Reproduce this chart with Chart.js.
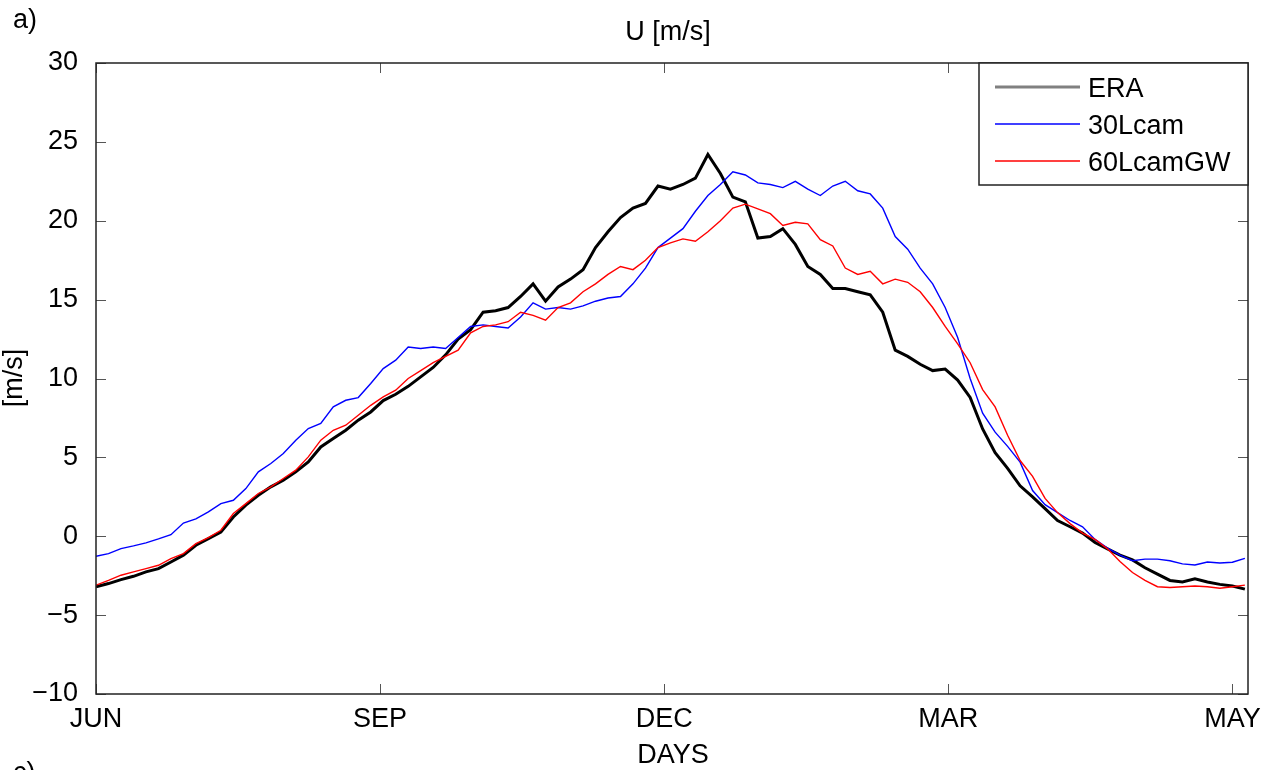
<!DOCTYPE html>
<html>
<head>
<meta charset="utf-8">
<script src="https://cdn.jsdelivr.net/npm/chart.js@4.4.1/dist/chart.umd.min.js"></script>
<style>
  html, body { margin: 0; padding: 0; background: #ffffff; }
  #wrap { width: 1267px; height: 770px; position: relative; }
</style>
</head>
<body>
<div id="wrap"><canvas id="chart" width="1267" height="770"></canvas></div>
<script>
// Day of the year counted from 1 June
const days = [0, 4, 8, 12, 16, 20, 24, 28, 32, 36, 40, 44, 48, 52, 56, 60, 64, 68, 72, 76,
  80, 84, 88, 92, 96, 100, 104, 108, 112, 116, 120, 124, 128, 132, 136, 140, 144, 148, 152, 156,
  160, 164, 168, 172, 176, 180, 184, 188, 192, 196, 200, 204, 208, 212, 216, 220, 224, 228, 232, 236,
  240, 244, 248, 252, 256, 260, 264, 268, 272, 276, 280, 284, 288, 292, 296, 300, 304, 308, 312, 316,
  320, 324, 328, 332, 336, 340, 344, 348, 352, 356, 360, 364, 368];

// Zonal wind U [m/s]
const era = [-3.2, -3.0, -2.75, -2.54, -2.26, -2.05, -1.63, -1.2, -0.57, -0.15, 0.27, 1.22, 1.97, 2.6, 3.13, 3.55, 4.08, 4.71, 5.66, 6.19,
  6.72, 7.36, 7.88, 8.6, 9.0, 9.5, 10.1, 10.7, 11.5, 12.5, 13.1, 14.2, 14.3, 14.5, 15.2, 16.0, 14.9, 15.8, 16.3, 16.9,
  18.3, 19.3, 20.2, 20.8, 21.1, 22.2, 22.0, 22.3, 22.7, 24.2, 23.0, 21.5, 21.2, 18.9, 19.0, 19.5, 18.5, 17.1, 16.6, 15.7,
  15.7, 15.5, 15.3, 14.2, 11.8, 11.4, 10.9, 10.5, 10.6, 9.9, 8.8, 6.8, 5.3, 4.3, 3.2, 2.5, 1.75, 1.0, 0.6, 0.2,
  -0.4, -0.8, -1.2, -1.5, -2.0, -2.4, -2.8, -2.9, -2.7, -2.9, -3.05, -3.15, -3.35];

const cam30 = [-1.27, -1.1, -0.78, -0.61, -0.42, -0.17, 0.1, 0.84, 1.1, 1.54, 2.07, 2.28, 3.02, 4.08, 4.61, 5.24, 6.09, 6.83, 7.15, 8.2,
  8.62, 8.79, 9.68, 10.63, 11.16, 12.0, 11.9, 12.0, 11.9, 12.6, 13.3, 13.4, 13.3, 13.2, 13.9, 14.8, 14.4, 14.5, 14.4, 14.6,
  14.9, 15.1, 15.2, 16.0, 17.0, 18.3, 18.9, 19.5, 20.6, 21.6, 22.3, 23.1, 22.9, 22.4, 22.3, 22.1, 22.5, 22.0, 21.6, 22.2,
  22.5, 21.9, 21.7, 20.8, 19.0, 18.2, 17.0, 16.0, 14.5, 12.6, 10.0, 7.8, 6.6, 5.7, 4.7, 2.9, 2.0, 1.5, 1.0, 0.6,
  -0.2, -0.75, -1.2, -1.55, -1.45, -1.45, -1.55, -1.75, -1.82, -1.63, -1.7, -1.65, -1.4];

const camGW60 = [-3.1, -2.8, -2.47, -2.26, -2.05, -1.84, -1.42, -1.1, -0.47, -0.09, 0.38, 1.44, 2.07, 2.71, 3.13, 3.66, 4.19, 5.03, 6.09, 6.72,
  7.04, 7.67, 8.3, 8.83, 9.26, 10.0, 10.5, 11.0, 11.4, 11.8, 12.9, 13.3, 13.4, 13.6, 14.2, 14.0, 13.7, 14.5, 14.8, 15.5,
  16.0, 16.6, 17.1, 16.9, 17.5, 18.3, 18.6, 18.85, 18.7, 19.3, 20.0, 20.8, 21.05, 20.75, 20.45, 19.7, 19.9, 19.8, 18.8, 18.4,
  17.0, 16.6, 16.8, 16.0, 16.3, 16.1, 15.5, 14.5, 13.3, 12.2, 11.0, 9.3, 8.2, 6.4, 4.8, 3.8, 2.4, 1.5, 0.8, 0.2,
  -0.2, -0.8, -1.6, -2.3, -2.8, -3.2, -3.25, -3.2, -3.15, -3.2, -3.3, -3.2, -3.1];

// Axis ticks
const monthTicks = [0, 91, 182, 273, 364];
const monthLabels = ['JUN', 'SEP', 'DEC', 'MAR', 'MAY'];
const yTicks = [-10, -5, 0, 5, 10, 15, 20, 25, 30];

const seriesNames = ['ERA', '30Lcam', '60LcamGW'];
const seriesColors = ['#000000', '#0000ff', '#ff0000'];
const legendColors = ['#808080', '#0000ff', '#ff0000'];

const FONT = '"Liberation Sans", Arial, Helvetica, sans-serif';
const FS = 27;
const TEXT = '#000000';

function toPoints(values) {
  return days.map((d, i) => ({ x: d, y: values[i] }));
}

// Box around the axes with inward ticks on all four sides, MATLAB style
const boxPlugin = {
  id: 'axesBox',
  afterDatasetsDraw(chart) {
    const { ctx, chartArea: a, scales } = chart;
    ctx.save();
    ctx.strokeStyle = '#555555';
    ctx.lineWidth = 1;
    const len = 10;
    ctx.beginPath();
    yTicks.forEach(v => {
      const py = Math.round(scales.y.getPixelForValue(v)) + 0.5;
      ctx.moveTo(a.left, py); ctx.lineTo(a.left + len, py);
      ctx.moveTo(a.right, py); ctx.lineTo(a.right - len, py);
    });
    monthTicks.forEach(v => {
      const px = Math.round(scales.x.getPixelForValue(v)) + 0.5;
      ctx.moveTo(px, a.top); ctx.lineTo(px, a.top + len);
      ctx.moveTo(px, a.bottom); ctx.lineTo(px, a.bottom - len);
    });
    ctx.stroke();
    ctx.strokeStyle = '#222222';
    ctx.lineWidth = 1.5;
    ctx.strokeRect(a.left, a.top, a.right - a.left, a.bottom - a.top);
    ctx.restore();
  },
  afterDraw(chart) {
    const { ctx, chartArea: a } = chart;
    ctx.save();
    // Legend box in the upper right corner
    const bx = 979, by = a.top, bw = a.right - 979, bh = 122;
    ctx.fillStyle = '#ffffff';
    ctx.fillRect(bx, by, bw, bh);
    ctx.strokeStyle = '#222222';
    ctx.lineWidth = 1.5;
    ctx.strokeRect(bx, by, bw, bh);
    ctx.font = FS + 'px ' + FONT;
    ctx.textAlign = 'left';
    ctx.textBaseline = 'middle';
    seriesNames.forEach((name, i) => {
      const ly = by + 24 + i * 37;
      ctx.strokeStyle = legendColors[i];
      ctx.lineWidth = i === 0 ? 3 : 1.4;
      ctx.beginPath();
      ctx.moveTo(995, ly); ctx.lineTo(1080, ly);
      ctx.stroke();
      ctx.fillStyle = TEXT;
      ctx.fillText(name, 1088, ly + 3);
    });

    // Panel letters, title and axis titles
    ctx.fillStyle = TEXT;
    ctx.textAlign = 'left';
    ctx.fillText('a)', 13, 21);
    ctx.fillText('c)', 13, 774);
    ctx.textAlign = 'center';
    ctx.fillText('U [m/s]', 668, 33);
    ctx.fillText('DAYS', 673, 756);
    ctx.translate(15, 378);
    ctx.rotate(-Math.PI / 2);
    ctx.fillText('[m/s]', 0, 0);
    ctx.restore();
  }
};

new Chart(document.getElementById('chart'), {
  type: 'line',
  data: {
    datasets: [
      { label: seriesNames[2], data: toPoints(camGW60), borderColor: seriesColors[2], borderWidth: 1.4, pointRadius: 0, tension: 0 },
      { label: seriesNames[1], data: toPoints(cam30), borderColor: seriesColors[1], borderWidth: 1.4, pointRadius: 0, tension: 0 },
      { label: seriesNames[0], data: toPoints(era), borderColor: seriesColors[0], borderWidth: 3, pointRadius: 0, tension: 0 }
    ]
  },
  options: {
    responsive: false,
    animation: false,
    devicePixelRatio: 1,
    layout: { padding: { top: 63, right: 19, left: 0, bottom: 0 } },
    plugins: { legend: { display: false }, tooltip: { enabled: false }, title: { display: false } },
    scales: {
      x: {
        type: 'linear', min: 0, max: 369,
        grid: { display: false }, border: { display: false },
        afterBuildTicks: s => { s.ticks = monthTicks.map(v => ({ value: v })); },
        afterFit: s => { s.height = 76; },
        ticks: {
          autoSkip: false, maxRotation: 0, padding: 1, color: TEXT,
          font: { family: FONT, size: FS },
          callback: v => monthLabels[monthTicks.indexOf(v)]
        }
      },
      y: {
        min: -10, max: 30,
        grid: { display: false }, border: { display: false },
        afterBuildTicks: s => { s.ticks = yTicks.map(v => ({ value: v })); },
        afterFit: s => { s.width = 96; },
        ticks: {
          padding: 10, color: TEXT,
          font: { family: FONT, size: FS },
          callback: v => (v < 0 ? '\u2212' + Math.abs(v) : String(v))
        }
      }
    }
  },
  plugins: [boxPlugin]
});
</script>
</body>
</html>
